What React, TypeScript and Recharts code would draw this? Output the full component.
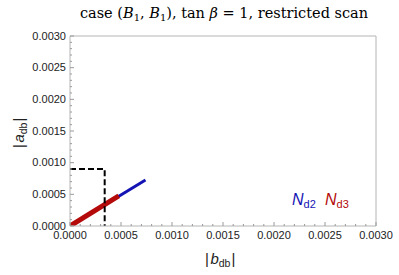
import React from "react";
import { ComposedChart, Line, XAxis, YAxis } from "recharts";

const majorTicks = [0, 0.0005, 0.001, 0.0015, 0.002, 0.0025, 0.003];
const allTicks = [
  0, 0.0001, 0.0002, 0.0003, 0.0004, 0.0005, 0.0006, 0.0007, 0.0008, 0.0009,
  0.001, 0.0011, 0.0012, 0.0013, 0.0014, 0.0015, 0.0016, 0.0017, 0.0018, 0.0019,
  0.002, 0.0021, 0.0022, 0.0023, 0.0024, 0.0025, 0.0026, 0.0027, 0.0028, 0.0029, 0.003,
];

// N_d2 (blue) band
const nd2Points = [
  { x: 0.0, y: 0.0 },
  { x: 0.00074, y: 0.000725 },
];
// N_d3 (red) band
const nd3Points = [
  { x: 0.0, y: 0.0 },
  { x: 0.000478, y: 0.000474 },
];
// dashed restriction box
const boxPoints = [
  { x: 0.0, y: 0.0009 },
  { x: 0.00034, y: 0.0009 },
  { x: 0.00034, y: 0.0 },
];

const FRAME = "#b4b4b4";
const TICK = "#9a9a9a";
const isMajor = (v: number) => majorTicks.some((m) => Math.abs(m - v) < 1e-9);
const fmt = (v: number) => v.toFixed(4);
const TICK_FONT = "'Liberation Sans', Arial, sans-serif";

const BottomTick = (p: any) => {
  const { x, y, payload } = p;
  const m = isMajor(payload.value);
  return (
    <g>
      <line x1={x} x2={x} y1={y} y2={y - (m ? 4 : 2)} stroke={TICK} strokeWidth={1} />
      {m && (
        <text x={x} y={y + 13} textAnchor="middle" fontSize={11} fontFamily={TICK_FONT} fill="#222">
          {fmt(payload.value)}
        </text>
      )}
    </g>
  );
};
const TopTick = (p: any) => {
  const { x, y, payload } = p;
  const m = isMajor(payload.value);
  return <line x1={x} x2={x} y1={y} y2={y + (m ? 4 : 2)} stroke={TICK} strokeWidth={1} />;
};
const LeftTick = (p: any) => {
  const { x, y, payload } = p;
  const m = isMajor(payload.value);
  return (
    <g>
      <line x1={x} x2={x + (m ? 4 : 2)} y1={y} y2={y} stroke={TICK} strokeWidth={1} />
      {m && (
        <text x={x - 4} y={y + 3.5} textAnchor="end" fontSize={11} fontFamily={TICK_FONT} fill="#222">
          {fmt(payload.value)}
        </text>
      )}
    </g>
  );
};
const RightTick = (p: any) => {
  const { x, y, payload } = p;
  const m = isMajor(payload.value);
  return <line x1={x} x2={x - (m ? 4 : 2)} y1={y} y2={y} stroke={TICK} strokeWidth={1} />;
};

export default function App() {
  return (
    <div style={{ position: "absolute", left: 0, top: 0, width: 399, height: 275, background: "#fff" }}>
      <ComposedChart
        width={399}
        height={275}
        margin={{ top: 35, right: 22, bottom: 29, left: 20 }}
        style={{ position: "absolute", left: 0, top: 0 }}
      >
        <XAxis
          xAxisId={0}
          type="number"
          dataKey="x"
          domain={[0, 0.003]}
          ticks={allTicks}
          interval={0}
          height={20}
          tickSize={0}
          tickMargin={0}
          tick={<BottomTick />}
          axisLine={{ stroke: FRAME }}
          allowDataOverflow
        />
        <XAxis
          xAxisId="top"
          orientation="top"
          type="number"
          dataKey="x"
          domain={[0, 0.003]}
          ticks={allTicks}
          interval={0}
          height={1}
          tickSize={0}
          tickMargin={0}
          tick={<TopTick />}
          axisLine={{ stroke: FRAME }}
        />
        <YAxis
          yAxisId={0}
          type="number"
          domain={[0, 0.003]}
          ticks={allTicks}
          interval={0}
          width={50}
          tickSize={0}
          tickMargin={0}
          tick={<LeftTick />}
          axisLine={{ stroke: FRAME }}
          allowDataOverflow
        />
        <YAxis
          yAxisId="right"
          orientation="right"
          type="number"
          domain={[0, 0.003]}
          ticks={allTicks}
          interval={0}
          width={1}
          tickSize={0}
          tickMargin={0}
          tick={<RightTick />}
          axisLine={{ stroke: FRAME }}
        />
        <Line
          data={nd2Points}
          dataKey="y"
          type="linear"
          stroke="#1414b4"
          strokeWidth={3}
          dot={false}
          isAnimationActive={false}
        />
        <Line
          data={nd3Points}
          dataKey="y"
          type="linear"
          stroke="#b40a0a"
          strokeWidth={5}
          dot={false}
          isAnimationActive={false}
        />
        <Line
          data={boxPoints}
          dataKey="y"
          type="linear"
          stroke="#000"
          strokeWidth={2}
          strokeDasharray="6 3"
          dot={false}
          isAnimationActive={false}
        />
      </ComposedChart>
      <svg
        width={399}
        height={275}
        style={{ position: "absolute", left: 0, top: 0, pointerEvents: "none" }}
      >
        <text x={224} y={18} textAnchor="middle" fontFamily="'DejaVu Serif', 'Liberation Serif', serif" fontSize={14.5} fill="#000">
          <tspan>case (</tspan>
          <tspan fontStyle="italic">B</tspan>
          <tspan fontSize={10} dy={3}>1</tspan>
          <tspan dy={-3}>, </tspan>
          <tspan fontStyle="italic">B</tspan>
          <tspan fontSize={10} dy={3}>1</tspan>
          <tspan dy={-3}>), tan </tspan>
          <tspan fontStyle="italic">β</tspan>
          <tspan> = 1, restricted scan</tspan>
        </text>
        <text x={205} y={264} fontFamily={TICK_FONT} fontSize={15} fill="#222">
          <tspan>|</tspan>
          <tspan fontStyle="italic" dx={1.5}>b</tspan>
          <tspan fontSize={10.5} dy={3}>db</tspan>
          <tspan dy={-3} dx={1}>|</tspan>
        </text>
        <text
          x={0}
          y={0}
          transform="translate(24,148) rotate(-90)"
          fontFamily={TICK_FONT}
          fontSize={15}
          fill="#222"
        >
          <tspan>|</tspan>
          <tspan fontStyle="italic" dx={1.5}>a</tspan>
          <tspan fontSize={10.5} dy={3}>db</tspan>
          <tspan dy={-3} dx={1}>|</tspan>
        </text>
        <text x={292} y={205} fontFamily={TICK_FONT} fontSize={16} fill="#1414b4">
          <tspan fontStyle="italic">N</tspan>
          <tspan fontSize={11} dy={3}>d2</tspan>
        </text>
        <text x={325} y={205} fontFamily={TICK_FONT} fontSize={16} fill="#b40a0a">
          <tspan fontStyle="italic">N</tspan>
          <tspan fontSize={11} dy={3}>d3</tspan>
        </text>
      </svg>
    </div>
  );
}
